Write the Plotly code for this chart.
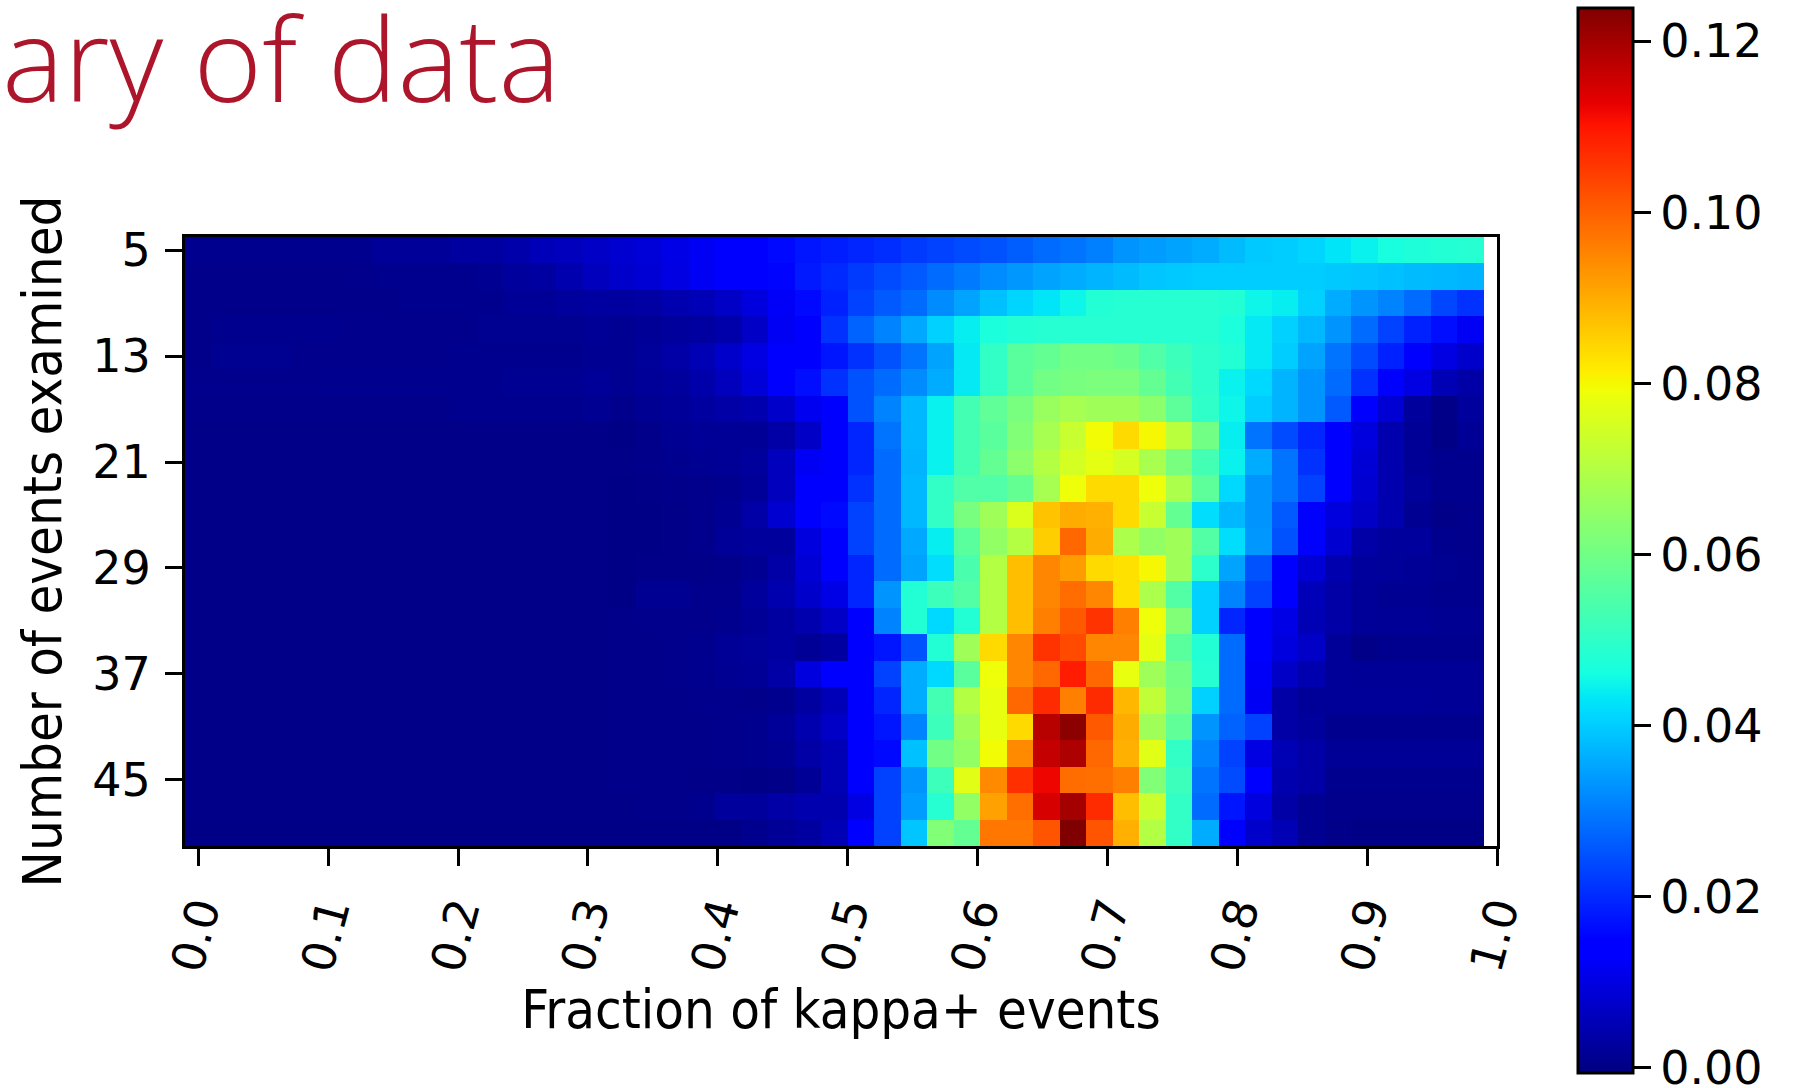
import numpy as np
import plotly.graph_objects as go

# Fraction of kappa+ events: 49 bins centred on k/49
kappa_fraction = [k / 49 for k in range(49)]
# Number of events examined: rows 5, 7, ..., 49
events_examined = list(range(5, 50, 2))

# Probability density, one list per number-of-events row
density = [
    [0.0010, 0.0010, 0.0010, 0.0010, 0.0010, 0.0010, 0.0010, 0.0020, 0.0020, 0.0020, 0.0030, 0.0030, 0.0040, 0.0055, 0.0060, 0.0070, 0.0080, 0.0090, 0.0105, 0.0120, 0.0140, 0.0145, 0.0160, 0.0175, 0.0185, 0.0195, 0.0205, 0.0220, 0.0230, 0.0240, 0.0250, 0.0265, 0.0280, 0.0290, 0.0305, 0.0330, 0.0340, 0.0350, 0.0360, 0.0380, 0.0395, 0.0400, 0.0410, 0.0430, 0.0445, 0.0465, 0.0475, 0.0480, 0.0485],
    [0.0005, 0.0005, 0.0005, 0.0005, 0.0005, 0.0005, 0.0007, 0.0010, 0.0010, 0.0010, 0.0010, 0.0015, 0.0025, 0.0030, 0.0045, 0.0060, 0.0075, 0.0085, 0.0100, 0.0120, 0.0140, 0.0145, 0.0155, 0.0180, 0.0200, 0.0220, 0.0240, 0.0260, 0.0280, 0.0300, 0.0320, 0.0335, 0.0350, 0.0360, 0.0370, 0.0380, 0.0390, 0.0395, 0.0400, 0.0400, 0.0400, 0.0400, 0.0400, 0.0395, 0.0390, 0.0385, 0.0380, 0.0375, 0.0370],
    [0.0005, 0.0005, 0.0005, 0.0005, 0.0005, 0.0005, 0.0005, 0.0005, 0.0010, 0.0010, 0.0010, 0.0010, 0.0018, 0.0018, 0.0024, 0.0030, 0.0030, 0.0032, 0.0045, 0.0052, 0.0070, 0.0095, 0.0125, 0.0160, 0.0190, 0.0230, 0.0260, 0.0280, 0.0320, 0.0350, 0.0385, 0.0410, 0.0430, 0.0450, 0.0480, 0.0485, 0.0485, 0.0485, 0.0485, 0.0480, 0.0450, 0.0440, 0.0405, 0.0360, 0.0330, 0.0310, 0.0280, 0.0235, 0.0210],
    [0.0005, 0.0010, 0.0010, 0.0010, 0.0010, 0.0010, 0.0007, 0.0007, 0.0007, 0.0007, 0.0007, 0.0012, 0.0012, 0.0012, 0.0012, 0.0018, 0.0015, 0.0018, 0.0025, 0.0030, 0.0040, 0.0070, 0.0120, 0.0145, 0.0210, 0.0270, 0.0310, 0.0355, 0.0405, 0.0440, 0.0470, 0.0480, 0.0485, 0.0485, 0.0485, 0.0485, 0.0485, 0.0485, 0.0485, 0.0470, 0.0435, 0.0405, 0.0375, 0.0330, 0.0280, 0.0230, 0.0190, 0.0165, 0.0120],
    [0.0005, 0.0012, 0.0012, 0.0012, 0.0007, 0.0007, 0.0007, 0.0007, 0.0007, 0.0007, 0.0010, 0.0010, 0.0010, 0.0010, 0.0010, 0.0015, 0.0015, 0.0022, 0.0035, 0.0050, 0.0075, 0.0100, 0.0140, 0.0150, 0.0175, 0.0210, 0.0250, 0.0290, 0.0350, 0.0435, 0.0505, 0.0565, 0.0580, 0.0600, 0.0600, 0.0590, 0.0550, 0.0520, 0.0495, 0.0480, 0.0435, 0.0400, 0.0350, 0.0290, 0.0240, 0.0190, 0.0145, 0.0100, 0.0075],
    [0.0007, 0.0007, 0.0007, 0.0007, 0.0007, 0.0010, 0.0010, 0.0010, 0.0010, 0.0010, 0.0010, 0.0010, 0.0014, 0.0014, 0.0014, 0.0020, 0.0015, 0.0020, 0.0025, 0.0040, 0.0060, 0.0090, 0.0140, 0.0165, 0.0210, 0.0250, 0.0280, 0.0320, 0.0360, 0.0435, 0.0505, 0.0565, 0.0600, 0.0610, 0.0615, 0.0615, 0.0580, 0.0530, 0.0495, 0.0445, 0.0415, 0.0370, 0.0330, 0.0280, 0.0210, 0.0140, 0.0100, 0.0050, 0.0035],
    [0.0005, 0.0005, 0.0005, 0.0005, 0.0005, 0.0005, 0.0005, 0.0005, 0.0005, 0.0005, 0.0010, 0.0010, 0.0010, 0.0010, 0.0010, 0.0014, 0.0007, 0.0014, 0.0020, 0.0028, 0.0035, 0.0045, 0.0075, 0.0115, 0.0145, 0.0250, 0.0310, 0.0375, 0.0445, 0.0530, 0.0575, 0.0610, 0.0660, 0.0680, 0.0670, 0.0670, 0.0640, 0.0570, 0.0500, 0.0450, 0.0400, 0.0370, 0.0330, 0.0260, 0.0150, 0.0085, 0.0025, 0.0003, 0.0025],
    [0.0004, 0.0004, 0.0004, 0.0004, 0.0004, 0.0004, 0.0004, 0.0004, 0.0004, 0.0004, 0.0004, 0.0004, 0.0004, 0.0004, 0.0004, 0.0004, 0.0002, 0.0005, 0.0014, 0.0018, 0.0018, 0.0018, 0.0035, 0.0070, 0.0140, 0.0195, 0.0290, 0.0375, 0.0445, 0.0530, 0.0565, 0.0625, 0.0680, 0.0730, 0.0795, 0.0840, 0.0800, 0.0710, 0.0600, 0.0440, 0.0290, 0.0240, 0.0195, 0.0145, 0.0095, 0.0045, 0.0018, 0.0002, 0.0018],
    [0.0004, 0.0004, 0.0004, 0.0004, 0.0004, 0.0004, 0.0004, 0.0004, 0.0004, 0.0004, 0.0004, 0.0004, 0.0004, 0.0004, 0.0004, 0.0004, 0.0003, 0.0005, 0.0010, 0.0014, 0.0018, 0.0025, 0.0060, 0.0120, 0.0145, 0.0195, 0.0280, 0.0370, 0.0445, 0.0530, 0.0580, 0.0640, 0.0700, 0.0750, 0.0775, 0.0750, 0.0685, 0.0610, 0.0530, 0.0445, 0.0360, 0.0290, 0.0210, 0.0145, 0.0085, 0.0045, 0.0018, 0.0010, 0.0010],
    [0.0004, 0.0004, 0.0004, 0.0004, 0.0004, 0.0004, 0.0004, 0.0004, 0.0004, 0.0004, 0.0004, 0.0004, 0.0004, 0.0004, 0.0004, 0.0004, 0.0002, 0.0003, 0.0005, 0.0007, 0.0010, 0.0020, 0.0060, 0.0140, 0.0150, 0.0210, 0.0280, 0.0375, 0.0505, 0.0550, 0.0550, 0.0580, 0.0680, 0.0790, 0.0840, 0.0840, 0.0790, 0.0690, 0.0570, 0.0415, 0.0330, 0.0290, 0.0230, 0.0145, 0.0080, 0.0045, 0.0022, 0.0010, 0.0010],
    [0.0003, 0.0003, 0.0003, 0.0003, 0.0003, 0.0003, 0.0003, 0.0003, 0.0003, 0.0003, 0.0003, 0.0003, 0.0003, 0.0003, 0.0003, 0.0003, 0.0002, 0.0002, 0.0003, 0.0007, 0.0015, 0.0035, 0.0080, 0.0130, 0.0160, 0.0230, 0.0280, 0.0375, 0.0505, 0.0610, 0.0670, 0.0760, 0.0870, 0.0900, 0.0895, 0.0840, 0.0730, 0.0580, 0.0420, 0.0375, 0.0330, 0.0260, 0.0145, 0.0095, 0.0070, 0.0045, 0.0015, 0.0003, 0.0008],
    [0.0003, 0.0003, 0.0003, 0.0003, 0.0003, 0.0003, 0.0003, 0.0003, 0.0003, 0.0003, 0.0003, 0.0003, 0.0003, 0.0003, 0.0003, 0.0003, 0.0002, 0.0002, 0.0003, 0.0007, 0.0020, 0.0025, 0.0025, 0.0095, 0.0150, 0.0230, 0.0280, 0.0355, 0.0440, 0.0565, 0.0650, 0.0700, 0.0855, 0.0990, 0.0900, 0.0690, 0.0650, 0.0670, 0.0555, 0.0420, 0.0335, 0.0250, 0.0145, 0.0080, 0.0035, 0.0025, 0.0025, 0.0010, 0.0007],
    [0.0003, 0.0003, 0.0003, 0.0003, 0.0003, 0.0003, 0.0003, 0.0003, 0.0003, 0.0003, 0.0003, 0.0003, 0.0003, 0.0003, 0.0003, 0.0003, 0.0002, 0.0003, 0.0003, 0.0003, 0.0005, 0.0015, 0.0035, 0.0085, 0.0145, 0.0195, 0.0280, 0.0350, 0.0420, 0.0540, 0.0700, 0.0875, 0.0950, 0.0920, 0.0840, 0.0830, 0.0800, 0.0670, 0.0495, 0.0350, 0.0250, 0.0145, 0.0085, 0.0045, 0.0025, 0.0022, 0.0018, 0.0012, 0.0010],
    [0.0003, 0.0003, 0.0003, 0.0003, 0.0003, 0.0003, 0.0003, 0.0003, 0.0003, 0.0003, 0.0003, 0.0003, 0.0003, 0.0003, 0.0003, 0.0003, 0.0002, 0.0015, 0.0015, 0.0007, 0.0007, 0.0025, 0.0045, 0.0075, 0.0105, 0.0195, 0.0330, 0.0480, 0.0520, 0.0555, 0.0700, 0.0875, 0.0950, 0.0985, 0.0950, 0.0830, 0.0690, 0.0555, 0.0405, 0.0310, 0.0230, 0.0145, 0.0055, 0.0035, 0.0020, 0.0015, 0.0014, 0.0010, 0.0010],
    [0.0003, 0.0003, 0.0003, 0.0003, 0.0003, 0.0003, 0.0003, 0.0003, 0.0003, 0.0003, 0.0003, 0.0003, 0.0003, 0.0003, 0.0003, 0.0003, 0.0005, 0.0007, 0.0007, 0.0007, 0.0010, 0.0018, 0.0030, 0.0045, 0.0070, 0.0140, 0.0310, 0.0480, 0.0415, 0.0480, 0.0700, 0.0875, 0.0960, 0.1010, 0.1060, 0.0960, 0.0790, 0.0625, 0.0405, 0.0195, 0.0145, 0.0105, 0.0050, 0.0035, 0.0020, 0.0018, 0.0018, 0.0015, 0.0015],
    [0.0003, 0.0003, 0.0003, 0.0003, 0.0003, 0.0003, 0.0003, 0.0003, 0.0003, 0.0003, 0.0003, 0.0003, 0.0003, 0.0003, 0.0003, 0.0003, 0.0005, 0.0005, 0.0007, 0.0010, 0.0018, 0.0022, 0.0030, 0.0018, 0.0030, 0.0145, 0.0175, 0.0250, 0.0480, 0.0670, 0.0840, 0.0950, 0.1060, 0.1030, 0.0950, 0.0950, 0.0775, 0.0565, 0.0480, 0.0280, 0.0145, 0.0095, 0.0070, 0.0020, 0.0003, 0.0010, 0.0010, 0.0010, 0.0010],
    [0.0003, 0.0003, 0.0003, 0.0003, 0.0003, 0.0003, 0.0003, 0.0003, 0.0003, 0.0003, 0.0003, 0.0003, 0.0003, 0.0003, 0.0003, 0.0003, 0.0005, 0.0005, 0.0007, 0.0010, 0.0015, 0.0018, 0.0035, 0.0095, 0.0140, 0.0150, 0.0230, 0.0360, 0.0415, 0.0565, 0.0790, 0.0950, 0.0990, 0.1090, 0.0990, 0.0780, 0.0670, 0.0600, 0.0485, 0.0280, 0.0125, 0.0070, 0.0045, 0.0020, 0.0018, 0.0018, 0.0018, 0.0018, 0.0018],
    [0.0003, 0.0003, 0.0003, 0.0003, 0.0003, 0.0003, 0.0003, 0.0003, 0.0003, 0.0003, 0.0003, 0.0003, 0.0003, 0.0003, 0.0003, 0.0003, 0.0005, 0.0005, 0.0005, 0.0007, 0.0007, 0.0005, 0.0010, 0.0030, 0.0055, 0.0145, 0.0195, 0.0360, 0.0530, 0.0700, 0.0780, 0.0990, 0.1070, 0.0960, 0.1070, 0.0885, 0.0720, 0.0610, 0.0405, 0.0280, 0.0120, 0.0035, 0.0020, 0.0020, 0.0020, 0.0020, 0.0020, 0.0018, 0.0018],
    [0.0003, 0.0003, 0.0003, 0.0003, 0.0003, 0.0003, 0.0003, 0.0003, 0.0003, 0.0003, 0.0003, 0.0003, 0.0003, 0.0003, 0.0003, 0.0003, 0.0005, 0.0005, 0.0005, 0.0005, 0.0007, 0.0010, 0.0020, 0.0045, 0.0070, 0.0145, 0.0175, 0.0310, 0.0520, 0.0670, 0.0780, 0.0840, 0.1180, 0.1225, 0.1010, 0.0900, 0.0670, 0.0575, 0.0330, 0.0270, 0.0230, 0.0035, 0.0025, 0.0010, 0.0010, 0.0010, 0.0010, 0.0010, 0.0010],
    [0.0003, 0.0003, 0.0003, 0.0003, 0.0003, 0.0003, 0.0003, 0.0003, 0.0003, 0.0003, 0.0003, 0.0003, 0.0003, 0.0003, 0.0003, 0.0003, 0.0005, 0.0005, 0.0005, 0.0005, 0.0007, 0.0010, 0.0015, 0.0035, 0.0050, 0.0145, 0.0160, 0.0385, 0.0600, 0.0650, 0.0795, 0.0945, 0.1165, 0.1190, 0.0990, 0.0895, 0.0770, 0.0505, 0.0310, 0.0230, 0.0100, 0.0050, 0.0035, 0.0018, 0.0018, 0.0018, 0.0018, 0.0018, 0.0018],
    [0.0003, 0.0003, 0.0003, 0.0003, 0.0003, 0.0003, 0.0003, 0.0003, 0.0003, 0.0003, 0.0003, 0.0003, 0.0003, 0.0003, 0.0003, 0.0003, 0.0005, 0.0005, 0.0005, 0.0003, 0.0003, 0.0002, 0.0003, 0.0018, 0.0050, 0.0145, 0.0230, 0.0330, 0.0520, 0.0770, 0.0945, 0.1065, 0.1120, 0.0985, 0.0980, 0.0960, 0.0625, 0.0520, 0.0290, 0.0240, 0.0145, 0.0045, 0.0035, 0.0010, 0.0010, 0.0010, 0.0010, 0.0010, 0.0010],
    [0.0003, 0.0003, 0.0003, 0.0003, 0.0003, 0.0003, 0.0003, 0.0003, 0.0003, 0.0003, 0.0003, 0.0003, 0.0003, 0.0003, 0.0003, 0.0003, 0.0003, 0.0005, 0.0005, 0.0010, 0.0025, 0.0025, 0.0035, 0.0045, 0.0045, 0.0100, 0.0230, 0.0340, 0.0485, 0.0650, 0.0915, 0.0980, 0.1145, 0.1200, 0.1070, 0.0875, 0.0735, 0.0505, 0.0280, 0.0175, 0.0095, 0.0035, 0.0014, 0.0007, 0.0007, 0.0007, 0.0007, 0.0007, 0.0007],
    [0.0002, 0.0002, 0.0002, 0.0002, 0.0002, 0.0002, 0.0002, 0.0002, 0.0002, 0.0002, 0.0002, 0.0002, 0.0002, 0.0002, 0.0002, 0.0002, 0.0002, 0.0002, 0.0002, 0.0002, 0.0002, 0.0010, 0.0018, 0.0030, 0.0050, 0.0145, 0.0230, 0.0390, 0.0625, 0.0580, 0.0970, 0.0970, 0.1015, 0.1240, 0.1015, 0.0895, 0.0700, 0.0505, 0.0360, 0.0145, 0.0075, 0.0050, 0.0015, 0.0003, 0.0002, 0.0002, 0.0002, 0.0002, 0.0002],
]

x_ticks = [0.0, 0.1, 0.2, 0.3, 0.4, 0.5, 0.6, 0.7, 0.8, 0.9, 1.0]
x_tick_text = ["0.0", "0.1", "0.2", "0.3", "0.4", "0.5", "0.6", "0.7", "0.8", "0.9", "1.0"]
y_ticks = [5, 13, 21, 29, 37, 45]
cbar_ticks = [0.00, 0.02, 0.04, 0.06, 0.08, 0.10, 0.12]
cbar_tick_text = ["0.00", "0.02", "0.04", "0.06", "0.08", "0.10", "0.12"]
# colour limits of the bar (a hair beyond 0.00 so its tick stays on the bar)
z_min, z_max = -0.0006, 0.1239

for row in density:
    assert len(row) == len(kappa_fraction), len(row)
assert len(density) == len(events_examined)

# Matplotlib "jet" colormap, rebuilt from its piecewise-linear segments
JET_R = [(0.0, 0.0), (0.35, 0.0), (0.66, 1.0), (0.89, 1.0), (1.0, 0.5)]
JET_G = [(0.0, 0.0), (0.125, 0.0), (0.375, 1.0), (0.64, 1.0), (0.91, 0.0), (1.0, 0.0)]
JET_B = [(0.0, 0.5), (0.11, 1.0), (0.34, 1.0), (0.65, 0.0), (1.0, 0.0)]


def _chan(seg, t):
    xs, ys = zip(*seg)
    return float(np.interp(t, xs, ys))


stops = sorted({p for seg in (JET_R, JET_G, JET_B) for p, _ in seg})
jet = []
for t in stops:
    r, g, b = (round(255 * _chan(s, t)) for s in (JET_R, JET_G, JET_B))
    jet.append([t, f"rgb({r},{g},{b})"])

# Canvas geometry (pixels)
W, H = 1798, 1088
L, R, T, B = 185, 301, 237, 242
plot_w, plot_h = W - L - R, H - T - B

tick_font = dict(family="DejaVu Sans", size=46, color="black")
label_font = dict(family="DejaVu Sans Condensed, DejaVu Sans", size=54, color="black")

fig = go.Figure(
    go.Heatmap(
        x=kappa_fraction,
        y=events_examined,
        z=density,
        colorscale=jet,
        zmin=z_min,
        zmax=z_max,
        colorbar=dict(
            thickness=55,
            len=1065,
            lenmode="pixels",
            x=(1578 - L) / plot_w,
            xanchor="left",
            xpad=0,
            y=(H - B - 540.5) / plot_h,
            yanchor="middle",
            ypad=0,
            outlinewidth=3,
            outlinecolor="black",
            ticks="outside",
            ticklen=17,
            tickwidth=3,
            tickcolor="black",
            tickvals=cbar_ticks,
            ticktext=cbar_tick_text,
            ticklabeloverflow="allow",
            tickfont=tick_font,
        ),
        hoverongaps=False,
    )
)

fig.update_xaxes(
    range=[-0.5 / 49, 1.0],
    tickvals=x_ticks,
    ticktext=x_tick_text,
    tickangle=-75,
    ticks="outside",
    ticklen=17,
    tickwidth=3,
    tickcolor="black",
    tickfont=tick_font,
    showline=True,
    linewidth=3,
    linecolor="black",
    mirror=True,
    showgrid=False,
    zeroline=False,
    title=dict(text="Fraction of kappa+ events", font=label_font, standoff=13),
)
fig.update_yaxes(
    range=[50, 4],
    tickvals=y_ticks,
    ticks="outside",
    ticklen=17,
    tickwidth=3,
    tickcolor="black",
    tickfont=tick_font,
    ticklabelstandoff=5,
    showline=True,
    linewidth=3,
    linecolor="black",
    mirror=True,
    showgrid=False,
    zeroline=False,
    title=dict(text="Number of events examined", font=label_font, standoff=14),
)

fig.add_annotation(
    text="ary of data",
    xref="paper",
    yref="paper",
    x=(0 - L) / plot_w,
    y=(H - B - 56) / plot_h,
    xanchor="left",
    yanchor="middle",
    showarrow=False,
    font=dict(family="Open Sans", size=117, color="#AD152B", weight=300),
)

fig.update_layout(
    width=W,
    height=H,
    margin=dict(l=L, r=R, t=T, b=B, autoexpand=False),
    plot_bgcolor="white",
    paper_bgcolor="white",
)

fig.write_html("out.html")
